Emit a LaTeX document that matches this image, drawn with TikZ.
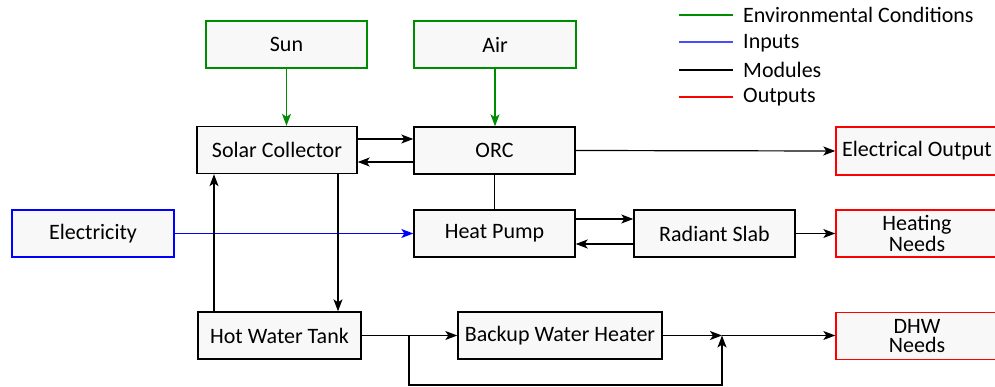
\documentclass[tikz,border=0pt]{standalone}
\usepackage{fontspec}
\setmainfont{Carlito}
\usetikzlibrary{arrows.meta}
\definecolor{envgreen}{RGB}{0,140,0}
\definecolor{inblue}{RGB}{0,0,255}
\definecolor{outred}{RGB}{255,0,0}
\definecolor{boxfill}{RGB}{248,248,248}
\tikzset{
  blk/.style={draw, line width=1.4pt, fill=boxfill, inner sep=0pt, align=center,
    font=\fontsize{22}{19}\selectfont},
  envbox/.style={blk, draw=envgreen},
  inbox/.style={blk, draw=inblue},
  modbox/.style={blk, draw=black},
  outbox/.style={blk, draw=outred},
  conn/.style={line width=1.2pt, -{Stealth[length=12pt,width=9pt,inset=3pt]}},
  plain/.style={line width=1.2pt},
  legline/.style={line width=1.4pt},
  legtext/.style={anchor=west, inner sep=0pt, font=\fontsize{22}{22}\selectfont}
}
\begin{document}
\begin{tikzpicture}[x=1pt,y=-1pt]
\useasboundingbox (0,0) rectangle (995,387);
% boxes
\node[envbox, minimum width=161pt, minimum height=47pt] (sun) at (286.5,44.5) {Sun};
\node[envbox, minimum width=162pt, minimum height=47pt] (air) at (495,44.5) {Air};
\node[modbox, minimum width=160pt, minimum height=47pt] (sc) at (277,150) {Solar Collector};
\node[modbox, minimum width=161pt, minimum height=47pt] (orc) at (494.5,150.5) {ORC};
\node[outbox, minimum width=162pt, minimum height=48pt] (eo) at (917,151) {Electrical Output};
\node[inbox, minimum width=162pt, minimum height=47pt] (elec) at (93,233.5) {Electricity};
\node[modbox, minimum width=161pt, minimum height=47pt] (hp) at (494.5,233.5) {Heat Pump};
\node[modbox, minimum width=161pt, minimum height=47pt] (rs) at (714.5,233.5) {Radiant Slab};
\node[outbox, minimum width=162pt, minimum height=47pt] (hn) at (917,233.5) {Heating\\Needs};
\node[modbox, minimum width=163pt, minimum height=47pt] (hwt) at (279.5,335.5) {Hot Water Tank};
\node[modbox, minimum width=204pt, minimum height=47pt] (bwh) at (560,335.5) {Backup Water Heater};
\node[outbox, minimum width=162pt, minimum height=47pt] (dhw) at (917,336) {DHW\\Needs};
% legend
\coordinate (l1a) at (679,15); \coordinate (l1b) at (733,15);
\coordinate (l2a) at (679,42); \coordinate (l2b) at (733,42);
\coordinate (l3a) at (679,70); \coordinate (l3b) at (733,70);
\coordinate (l4a) at (679,97); \coordinate (l4b) at (733,97);
\draw[legline, draw=envgreen] (l1a) -- (l1b);
\draw[legline, draw=inblue!70] (l2a) -- (l2b);
\draw[legline, draw=black] (l3a) -- (l3b);
\draw[legline, draw=outred] (l4a) -- (l4b);
\node[legtext] (t1) at (743,15) {Environmental Conditions};
\node[legtext] (t2) at (743,43) {Inputs};
\node[legtext] (t3) at (743,70) {Modules};
\node[legtext] (t4) at (743,97) {Outputs};
% connectors
\draw[conn, envgreen] (sun.south) -- (sc.north -| sun.south);
\draw[conn, envgreen] (air.south) -- (orc.north -| air.south);
\draw[conn] (sc.east |- 0,139) -- (orc.west |- 0,139);
\draw[conn] (orc.west |- 0,162) -- (sc.east |- 0,162);
\draw[conn] (orc.east) -- (eo.west);
\draw[plain] (orc.south) -- (hp.north -| orc.south);
\draw[conn, inblue] (elec.east) -- (hp.west |- elec.east);
\draw[conn] (hp.east |- 0,219) -- (rs.west |- 0,219);
\draw[conn] (rs.west |- 0,244) -- (hp.east |- 0,244);
\draw[conn] (rs.east) -- (hn.west |- rs.east);
\draw[conn] (sc.south -| 338,0) -- (hwt.north -| 338,0);
\draw[conn] (hwt.north -| 214,0) -- (sc.south -| 214,0);
\coordinate (br) at (409,335.5);
\coordinate (mg) at (722,335.5);
\draw[conn] (hwt.east) -- (bwh.west);
\draw[conn] (bwh.east) -- (mg);
\draw[conn] (br) -- (409,385) -- (722,385) -- (mg);
\draw[conn] (mg) -- (dhw.west |- mg);
\end{tikzpicture}
\end{document}
